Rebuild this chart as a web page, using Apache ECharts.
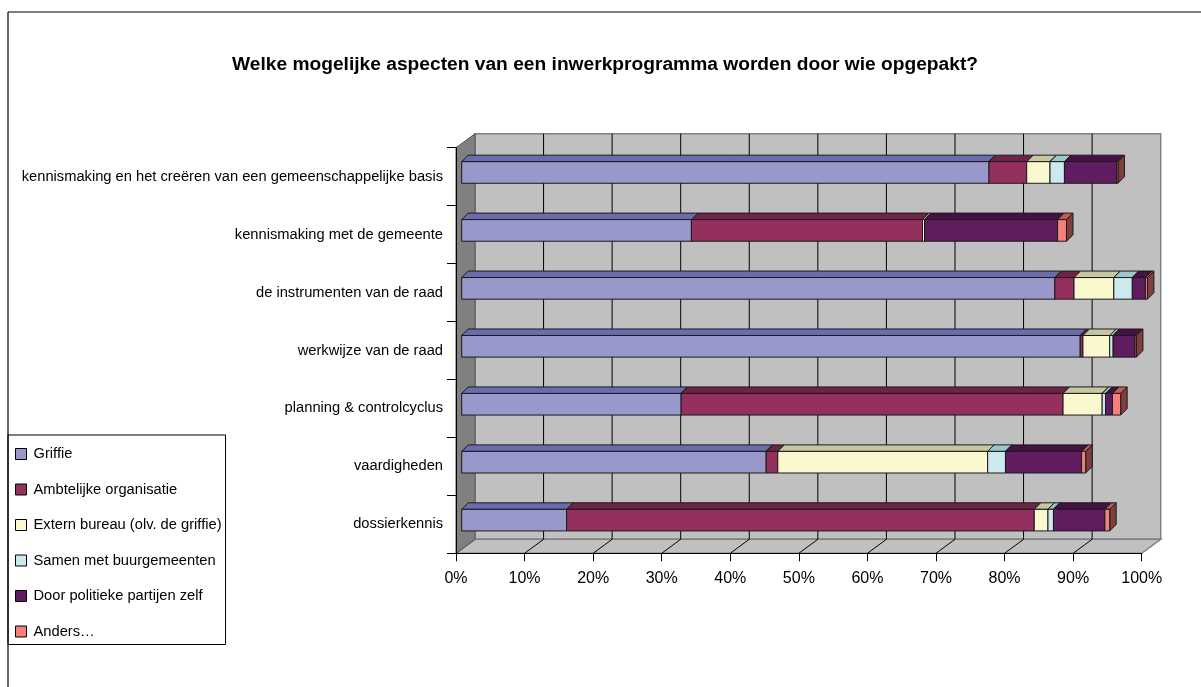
<!DOCTYPE html>
<html>
<head>
<meta charset="utf-8">
<script src="https://cdn.jsdelivr.net/npm/echarts@6/dist/echarts.min.js"></script>
<style>
html,body{margin:0;padding:0;background:#fff;}
#chart{width:1201px;height:687px;}
</style>
</head>
<body>
<div id="chart"></div>
<script>
// ---- data ----
const categories = [
  'kennismaking en het creëren van een gemeenschappelijke basis',
  'kennismaking met de gemeente',
  'de instrumenten van de raad',
  'werkwijze van de raad',
  'planning & controlcyclus',
  'vaardigheden',
  'dossierkennis'
];
const seriesNames = [
  'Griffie',
  'Ambtelijke organisatie',
  'Extern bureau (olv. de griffie)',
  'Samen met buurgemeenten',
  'Door politieke partijen zelf',
  'Anders…'
];
const griffie    = [76.9, 33.5, 86.5, 90.2, 32.0, 44.4, 15.3];
const ambtelijk  = [5.5, 33.7, 2.8, 0.4, 55.7, 1.7, 68.2];
const extern     = [3.4, 0.3, 5.8, 3.9, 5.7, 30.6, 2.0];
const samen      = [2.1, 0.0, 2.7, 0.5, 0.5, 2.6, 0.8];
const partijen   = [7.6, 19.4, 1.9, 3.2, 1.0, 11.1, 7.5];
const anders     = [0.2, 1.3, 0.3, 0.2, 1.2, 0.6, 0.7];
const xTicks     = [0, 10, 20, 30, 40, 50, 60, 70, 80, 90, 100];

const allValues = [griffie, ambtelijk, extern, samen, partijen, anders];

// ---- styles ----
const FONT = "Arial, 'Liberation Sans', sans-serif";
const palette = [
  {front:'#9898CA', top:'#6B6BB0', side:'#4C4C80'},
  {front:'#93305E', top:'#6E2446', side:'#5A1E3A'},
  {front:'#FAF8CE', top:'#C6C6A0', side:'#A8A880'},
  {front:'#CCE9EE', top:'#9CC6C8', side:'#7FA5A8'},
  {front:'#5F1D5F', top:'#471047', side:'#3A0C3A'},
  {front:'#F4807C', top:'#C05C58', side:'#7F3F3F'}
];
const WALL_DX = 19, WALL_DY = -14;     // depth of the 3D box
const BAR_FX = 5.7, BAR_FY = -4.2;     // bar front face offset
const BAR_DX = 6.5, BAR_DY = -6.5;     // bar depth
const BAR_H_RATIO = 0.373;
const EDGE = '#1a1a1a';

function buildSeriesData(k) {
  return categories.map((c, i) => {
    let start = 0;
    for (let j = 0; j < k; j++) start += allValues[j][i];
    return [start, start + allValues[k][i], i];
  });
}

function barRenderer(k) {
  const col = palette[k];
  return function (params, api) {
    const s = api.value(0), e = api.value(1), row = api.value(2);
    if (e - s <= 0) return null;
    const p0 = api.coord([s, row]);
    const p1 = api.coord([e, row]);
    const band = api.size([0, 1])[1];
    const h = band * BAR_H_RATIO;
    const cy = p0[1] + BAR_FY;
    const x0 = p0[0] + BAR_FX, x1 = p1[0] + BAR_FX;
    const top = cy - h / 2, bot = cy + h / 2;
    return {
      type: 'group',
      children: [
        {type: 'polygon', shape: {points: [[x0, top], [x0 + BAR_DX, top + BAR_DY], [x1 + BAR_DX, top + BAR_DY], [x1, top]]},
         style: {fill: col.top, stroke: EDGE, lineWidth: 1}},
        {type: 'polygon', shape: {points: [[x1, top], [x1 + BAR_DX, top + BAR_DY], [x1 + BAR_DX, bot + BAR_DY], [x1, bot]]},
         style: {fill: col.side, stroke: EDGE, lineWidth: 1}},
        {type: 'rect', shape: {x: x0, y: top, width: x1 - x0, height: h},
         style: {fill: col.front, stroke: EDGE, lineWidth: 1}}
      ]
    };
  };
}

function wallRenderer(params, api) {
  const cs = params.coordSys;
  const L = cs.x, T = cs.y, R = cs.x + cs.width, B = cs.y + cs.height;
  const children = [];
  children.push({type: 'rect', shape: {x: L + WALL_DX, y: T + WALL_DY, width: R - L, height: B - T},
    style: {fill: '#C0C0C0', stroke: '#808080', lineWidth: 1.5}});
  children.push({type: 'polygon', shape: {points: [[L, B], [L + WALL_DX, B + WALL_DY], [R + WALL_DX, B + WALL_DY], [R, B]]},
    style: {fill: '#C0C0C0', stroke: '#808080', lineWidth: 1.5}});
  children.push({type: 'polygon', shape: {points: [[L, T], [L + WALL_DX, T + WALL_DY], [L + WALL_DX, B + WALL_DY], [L, B]]},
    style: {fill: '#808080', stroke: '#555', lineWidth: 1}});
  xTicks.forEach(v => {
    if (v === 0 || v === 100) return;
    const x = api.coord([v, 0])[0];
    children.push({type: 'line', shape: {x1: x + WALL_DX, y1: T + WALL_DY, x2: x + WALL_DX, y2: B + WALL_DY},
      style: {stroke: '#000', lineWidth: 1}});
    children.push({type: 'line', shape: {x1: x, y1: B, x2: x + WALL_DX, y2: B + WALL_DY},
      style: {stroke: '#000', lineWidth: 1}});
  });
  return {type: 'group', children: children};
}

const series = [{
  name: '__walls',
  type: 'custom',
  silent: true,
  z: 1,
  renderItem: wallRenderer,
  encode: {x: 0, y: 1},
  data: [[0, 0]]
}];
seriesNames.forEach((name, k) => {
  series.push({
    name: name,
    type: 'custom',
    z: 2,
    renderItem: barRenderer(k),
    encode: {x: [0, 1], y: 2},
    itemStyle: {color: palette[k].front, borderColor: '#000', borderWidth: 1},
    data: buildSeriesData(k)
  });
});

const chart = echarts.init(document.getElementById('chart'));
chart.setOption({
  animation: false,
  backgroundColor: '#fff',
  title: {
    text: 'Welke mogelijke aspecten van een inwerkprogramma worden door wie opgepakt?',
    left: 600,
    textAlign: 'center',
    top: 50,
    textStyle: {fontFamily: FONT, fontSize: 19.2, fontWeight: 'bold', color: '#000'}
  },
  legend: {
    data: seriesNames,
    orient: 'vertical',
    left: 8,
    top: 435,
    padding: [11, 4, 5, 7],
    itemWidth: 11,
    itemHeight: 11,
    itemGap: 19.5,
    icon: 'rect',
    backgroundColor: '#fff',
    borderColor: '#000',
    borderWidth: 1,
    itemStyle: {borderColor: '#000', borderWidth: 1},
    textStyle: {fontFamily: FONT, fontSize: 14.7, color: '#000', lineHeight: 16, padding: [0, 0, 0, 2]}
  },
  grid: {left: 456, top: 147.7, right: 59.3, bottom: 133.7, containLabel: false},
  xAxis: {
    type: 'value',
    min: 0, max: 100, interval: 10,
    z: 10,
    axisLine: {show: true, lineStyle: {color: '#000', width: 1}},
    axisTick: {show: true, length: 8, lineStyle: {color: '#000'}},
    splitLine: {show: false},
    axisLabel: {margin: 17, fontFamily: FONT, fontSize: 16, color: '#000', formatter: v => v + '%'}
  },
  yAxis: {
    type: 'category',
    data: categories,
    inverse: true,
    z: 10,
    axisLine: {show: true, lineStyle: {color: '#000', width: 1}},
    axisTick: {show: true, length: 9, lineStyle: {color: '#000'}},
    axisLabel: {margin: 13, fontFamily: FONT, fontSize: 14.7, color: '#000'}
  },
  graphic: [
    {type: 'line', z: 100, shape: {x1: 8, y1: 12, x2: 1201, y2: 12}, style: {stroke: '#000', lineWidth: 1.2}},
    {type: 'line', z: 100, shape: {x1: 8, y1: 12, x2: 8, y2: 687}, style: {stroke: '#000', lineWidth: 1.2}}
  ],
  series: series
});
</script>
</body>
</html>
